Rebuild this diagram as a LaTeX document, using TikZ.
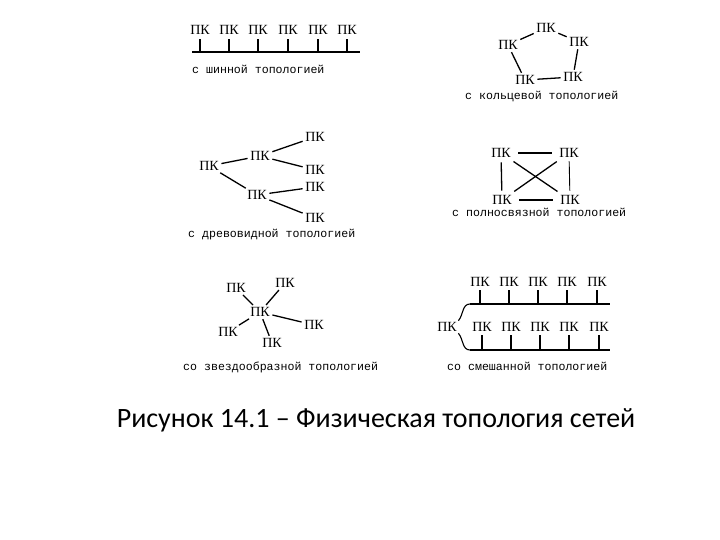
\documentclass[tikz,border=0pt]{standalone}
\usepackage{fontspec}
\setmainfont{Liberation Serif}
\newfontfamily\capfont{Carlito}
\newfontfamily\labfont{Liberation Mono}
\begin{document}
\begin{tikzpicture}[x=1pt,y=-1pt,
  pc/.style={font=\fontsize{14}{15}\selectfont, inner sep=1.5pt},
  ln/.style={line width=1.3pt, shorten <=1pt, shorten >=1pt},
  bus/.style={line width=1.6pt},
  tick/.style={line width=1.3pt},
  lab/.style={font=\labfont\fontsize{11.6}{12}\selectfont, inner sep=0pt, anchor=west}]
\useasboundingbox (0,0) rectangle (720,540);
% ---- bus
\foreach \i/\x in {1/200,2/229,3/258,4/288,5/318,6/347}{
  \node[pc] (b\i) at (\x,30) {ПК};}
\coordinate (bl) at (192,52); \coordinate (br) at (360,52);
\draw[bus] (bl) -- (br);
\foreach \i in {1,...,6}{\draw[tick] ([yshift=-3pt]b\i.south) -- (b\i |- bl);}
\node[lab] (t1) at (192,69) {с шинной топологией};
% ---- ring
\node[pc] (r1) at (546,28) {ПК};
\node[pc] (r2) at (579,42) {ПК};
\node[pc] (r3) at (573,77) {ПК};
\node[pc] (r4) at (525,80) {ПК};
\node[pc] (r5) at (508,45) {ПК};
\draw[ln] (r1) -- (r2); \draw[ln] (r2) -- (r3); \draw[ln] (r3) -- (r4);
\draw[ln] (r4) -- (r5); \draw[ln] (r5) -- (r1);
\node[lab] (t2) at (465,97) {с кольцевой топологией};
% ---- tree
\node[pc] (d0) at (209,166) {ПК};
\node[pc] (d1) at (260,156) {ПК};
\node[pc] (d2) at (257,195) {ПК};
\node[pc] (d3) at (315,137) {ПК};
\node[pc] (d4) at (315,170) {ПК};
\node[pc] (d5) at (315,187) {ПК};
\node[pc] (d6) at (315,218) {ПК};
\draw[ln] (d0) -- (d1); \draw[ln] (d0) -- (d2);
\draw[ln] (d1) -- (d3); \draw[ln] (d1) -- (d4);
\draw[ln] (d2) -- (d5); \draw[ln] (d2) -- (d6);
\node[lab] (t3) at (188,235) {с древовидной топологией};
% ---- full mesh
\node[pc] (m1) at (501,153) {ПК};
\node[pc] (m2) at (569,153) {ПК};
\node[pc] (m3) at (502,200) {ПК};
\node[pc] (m4) at (570,200) {ПК};
\draw[ln, shorten <=6pt, shorten >=6pt] (m1) -- (m2);
\draw[ln, shorten <=6pt, shorten >=6pt] (m3) -- (m4);
\draw[ln, shorten <=3pt, shorten >=3pt] (m1) -- (m3); \draw[line width=0.9pt, shorten <=2pt, shorten >=3pt] (m2) -- (m4);
\draw[ln, shorten <=4pt, shorten >=4pt] (m1) -- (m4);
\draw[ln, shorten <=4pt, shorten >=4pt] (m2) -- (m3);
\node[lab] (t4) at (452,212) {с полносвязной топологией};
% ---- star
\node[pc] (s0) at (260,312) {ПК};
\node[pc] (s1) at (236,288) {ПК};
\node[pc] (s2) at (285,283) {ПК};
\node[pc] (s3) at (228,332) {ПК};
\node[pc] (s4) at (272,343) {ПК};
\node[pc] (s5) at (314,325) {ПК};
\foreach \i in {1,...,5}{\draw[ln] (s0) -- (s\i);}
\node[lab] (t5) at (183,367) {со звездообразной топологией};
% ---- mixed
\foreach \i/\x in {1/480,2/509,3/538,4/567,5/597}{
  \node[pc] (u\i) at (\x,282) {ПК};
  \node[pc] (v\i) at (\x+2,327) {ПК};}
\node[pc] (w0) at (447,327) {ПК};
\coordinate (ul) at (470,304); \coordinate (ur) at (610,304);
\coordinate (vl) at (470,350); \coordinate (vr) at (610,350);
\draw[bus] (ul) -- (ur);
\draw[bus] (vl) -- (vr);
\foreach \i in {1,...,5}{
  \draw[tick] ([yshift=-2pt]u\i.south) -- (u\i |- ul);
  \draw[tick] ([yshift=-2pt]v\i.south) -- (v\i |- vl);}
\draw[line width=1.1pt] (w0.north east) to[out=50,in=180] (ul);
\draw[line width=1.1pt] (w0.south east) to[out=-50,in=180] (vl);
\node[lab] (t6) at (447,366) {со смешанной топологией};
% ---- caption
\node[font=\capfont\fontsize{28}{32}\selectfont, inner sep=0pt] (cap) at (376,420) {Рисунок 14.1 – Физическая топология сетей};
\end{tikzpicture}
\end{document}
